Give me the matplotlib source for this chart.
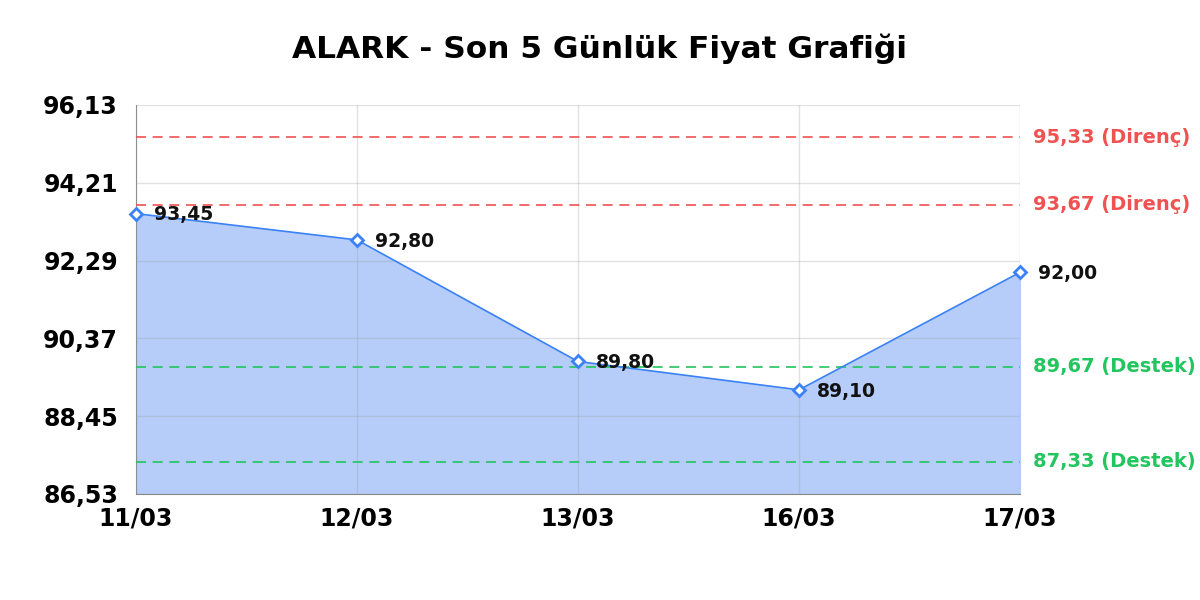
import numpy as np
import matplotlib
matplotlib.use("Agg")
import matplotlib.pyplot as plt
from matplotlib.transforms import blended_transform_factory

# data
dates = ["11/03", "12/03", "13/03", "16/03", "17/03"]
prices = [93.45, 92.80, 89.80, 89.10, 92.00]
resistance = [95.33, 93.67]
support = [89.67, 87.33]
y_ticks = [86.53, 88.45, 90.37, 92.29, 94.21, 96.13]

def tr(v):
    return ("%.2f" % v).replace(".", ",")

plt.rcParams["font.family"] = ["DejaVu Sans"]

fig = plt.figure(figsize=(12, 6), dpi=100)
ax = fig.add_axes([0.1133, 0.1767, 0.7367, 0.6483])

x = np.arange(len(dates))
ax.fill_between(x, prices, y_ticks[0], color="#b5cdf8", zorder=1)
ax.plot(x, prices, color="#3b82f6", lw=1.2, zorder=4)
ax.plot(x, prices, ls="none", marker="D", ms=6.5, mfc="white", mec="#3b82f6",
        mew=2, zorder=5, clip_on=False)

for xi, p in zip(x, prices):
    ax.annotate(tr(p), (xi, p), xytext=(13, -1), textcoords="offset points",
                ha="left", va="center", fontsize=13.5, fontweight="bold",
                color="#111111", zorder=6)

trans = blended_transform_factory(ax.transAxes, ax.transData)
for r in resistance:
    ax.axhline(r, color="#f05252", ls=(0, (6, 4)), lw=1.2, zorder=3)
    ax.text(1.015, r, tr(r) + " (Direnç)", transform=trans, ha="left",
            va="center", fontsize=14, fontweight="bold", color="#f05252")
for s in support:
    ax.axhline(s, color="#22c55e", ls=(0, (6, 4)), lw=1.2, zorder=3)
    ax.text(1.015, s, tr(s) + " (Destek)", transform=trans, ha="left",
            va="center", fontsize=14, fontweight="bold", color="#22c55e")

ax.set_xlim(0, len(dates) - 1)
ax.set_ylim(y_ticks[0], y_ticks[-1])
ax.set_xticks(x)
ax.set_xticklabels(dates)
ax.set_yticks(y_ticks)
ax.set_yticklabels([tr(v) for v in y_ticks])
ax.tick_params(length=0, labelsize=17)
ax.tick_params(axis="y", pad=13)
ax.tick_params(axis="x", pad=9)
for lab in ax.get_xticklabels() + ax.get_yticklabels():
    lab.set_fontweight("bold")

ax.grid(True, color="#9aa0a8", alpha=0.3, lw=1, zorder=2)
ax.set_axisbelow(False)
for side in ["top", "right"]:
    ax.spines[side].set_visible(False)
for side in ["left", "bottom"]:
    ax.spines[side].set_color("#888888")

fig.text(0.5, 0.918, "ALARK - Son 5 Günlük Fiyat Grafiği", ha="center",
         va="center", fontsize=22.5, fontweight="bold")

fig.savefig("out.png", dpi=100)
